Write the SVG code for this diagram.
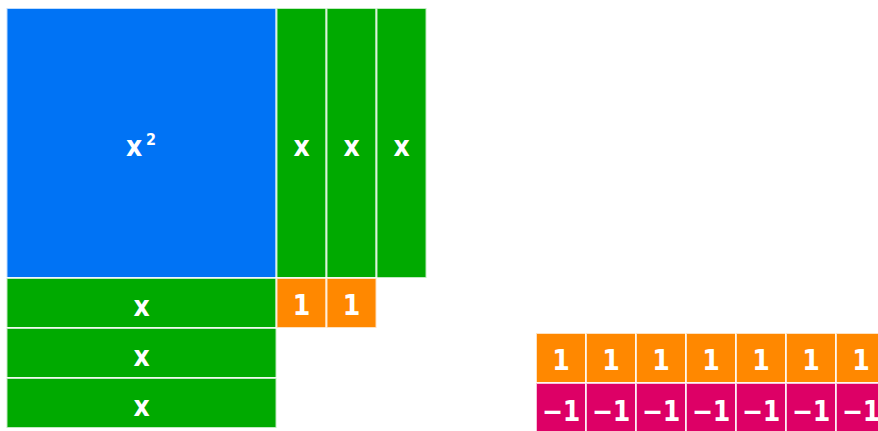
<svg xmlns="http://www.w3.org/2000/svg" width="878" height="431" viewBox="0 0 878 431">
<style>
rect{stroke:#fff;stroke-opacity:0.75;stroke-width:2}
.b{fill:#0073f5}.g{fill:#00aa00}.o{fill:#ff8800}.m{fill:#dd0066}
text{fill:#fff;font-family:"DejaVu Sans Condensed","DejaVu Sans",Verdana,sans-serif;font-stretch:condensed;font-weight:bold;font-size:28px;text-anchor:middle}
.sup{font-size:16px}
</style>
<rect x="0" y="0" width="878" height="431" fill="#fff" stroke="none"/>
<g id="x2"><rect class="b" x="6.5" y="8" width="270" height="270"/><text x="134" y="156">x</text><text class="sup" x="151" y="145">2</text></g>
<g id="vx1"><rect class="g" x="276.5" y="8" width="50" height="270"/><text x="301.5" y="156">x</text></g>
<g id="vx2"><rect class="g" x="326.5" y="8" width="50" height="270"/><text x="351.5" y="156">x</text></g>
<g id="vx3"><rect class="g" x="376.5" y="8" width="50" height="270"/><text x="401.5" y="156">x</text></g>
<g id="hx1"><rect class="g" x="6.5" y="278" width="270" height="50"/><text x="141.5" y="316">x</text></g>
<g id="hx2"><rect class="g" x="6.5" y="328" width="270" height="50"/><text x="141.5" y="366">x</text></g>
<g id="hx3"><rect class="g" x="6.5" y="378" width="270" height="50"/><text x="141.5" y="416">x</text></g>
<g id="u1"><rect class="o" x="276.5" y="278" width="50" height="50"/><text x="301.5" y="315">1</text></g>
<g id="u2"><rect class="o" x="326.5" y="278" width="50" height="50"/><text x="351.5" y="315">1</text></g>
<g id="p1"><rect class="o" x="536" y="333" width="50" height="50"/><text x="561" y="370">1</text></g>
<g id="p2"><rect class="o" x="586" y="333" width="50" height="50"/><text x="611" y="370">1</text></g>
<g id="p3"><rect class="o" x="636" y="333" width="50" height="50"/><text x="661" y="370">1</text></g>
<g id="p4"><rect class="o" x="686" y="333" width="50" height="50"/><text x="711" y="370">1</text></g>
<g id="p5"><rect class="o" x="736" y="333" width="50" height="50"/><text x="761" y="370">1</text></g>
<g id="p6"><rect class="o" x="786" y="333" width="50" height="50"/><text x="811" y="370">1</text></g>
<g id="p7"><rect class="o" x="836" y="333" width="50" height="50"/><text x="861" y="370">1</text></g>
<g id="n1"><rect class="m" x="536" y="383" width="50" height="50"/><text x="561" y="421">−1</text></g>
<g id="n2"><rect class="m" x="586" y="383" width="50" height="50"/><text x="611" y="421">−1</text></g>
<g id="n3"><rect class="m" x="636" y="383" width="50" height="50"/><text x="661" y="421">−1</text></g>
<g id="n4"><rect class="m" x="686" y="383" width="50" height="50"/><text x="711" y="421">−1</text></g>
<g id="n5"><rect class="m" x="736" y="383" width="50" height="50"/><text x="761" y="421">−1</text></g>
<g id="n6"><rect class="m" x="786" y="383" width="50" height="50"/><text x="811" y="421">−1</text></g>
<g id="n7"><rect class="m" x="836" y="383" width="50" height="50"/><text x="861" y="421">−1</text></g>
<g id="connectors"></g>
</svg>
